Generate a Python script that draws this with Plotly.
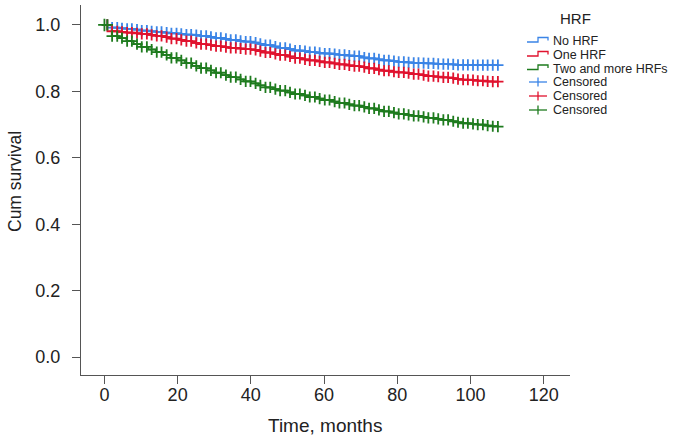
import numpy as np
import plotly.graph_objects as go

# Time points (months) and cumulative survival
time_pts = [0, 2, 4, 6, 8, 10, 12, 14, 16, 18, 20, 22, 24, 26, 28, 30, 32, 34, 36, 38, 40,
            42, 44, 46, 48, 50, 52, 54, 56, 58, 60, 62, 64, 66, 68, 70, 72, 74, 76, 78, 80,
            82, 84, 86, 88, 90, 92, 94, 96, 98, 100, 102, 104, 106, 107.5]
surv_no_hrf = [1.000, 0.992, 0.990, 0.988, 0.986, 0.983, 0.981, 0.979, 0.977, 0.975, 0.973,
               0.971, 0.969, 0.967, 0.964, 0.961, 0.958, 0.955, 0.952, 0.950, 0.947,
               0.943, 0.939, 0.935, 0.931, 0.927, 0.923, 0.921, 0.918, 0.916, 0.914,
               0.912, 0.910, 0.908, 0.906, 0.902, 0.899, 0.896, 0.893, 0.891, 0.889,
               0.887, 0.886, 0.885, 0.884, 0.883, 0.882, 0.881, 0.880, 0.880, 0.879,
               0.879, 0.879, 0.879, 0.879]
surv_one_hrf = [1.000, 0.981, 0.979, 0.977, 0.975, 0.973, 0.970, 0.967, 0.963, 0.959, 0.955,
                0.951, 0.946, 0.942, 0.939, 0.936, 0.933, 0.931, 0.929, 0.927, 0.925,
                0.921, 0.917, 0.913, 0.909, 0.905, 0.900, 0.896, 0.893, 0.890, 0.887,
                0.884, 0.881, 0.878, 0.876, 0.873, 0.869, 0.865, 0.862, 0.859, 0.857,
                0.855, 0.852, 0.849, 0.846, 0.844, 0.842, 0.840, 0.837, 0.835, 0.834,
                0.832, 0.830, 0.829, 0.829]
surv_two_hrf = [1.000, 0.966, 0.960, 0.951, 0.942, 0.934, 0.926, 0.918, 0.910, 0.901, 0.893,
                0.885, 0.877, 0.870, 0.863, 0.856, 0.849, 0.843, 0.836, 0.830, 0.824,
                0.818, 0.812, 0.807, 0.802, 0.797, 0.792, 0.788, 0.783, 0.778, 0.774,
                0.769, 0.765, 0.761, 0.757, 0.753, 0.749, 0.744, 0.740, 0.736, 0.732,
                0.729, 0.726, 0.723, 0.720, 0.717, 0.714, 0.710, 0.707, 0.704, 0.702,
                0.700, 0.697, 0.695, 0.694]

# Censoring times (months)
censor_times = [0.8, 2.1, 3.5, 4.8, 6.2, 7.5, 8.9, 10.2, 11.6, 12.9, 14.3, 15.6, 17.0, 18.3,
                19.7, 21.0, 22.4, 23.7, 25.1, 26.4, 27.8, 29.1, 30.5, 31.8, 33.2, 34.5, 35.9,
                37.2, 38.6, 39.9, 41.3, 42.6, 44.0, 45.3, 46.7, 48.0, 49.4, 50.7, 52.1, 53.4,
                54.8, 56.1, 57.5, 58.8, 60.2, 61.5, 62.9, 64.2, 65.6, 66.9, 68.3, 69.6, 71.0,
                72.3, 73.7, 75.0, 76.4, 77.7, 79.1, 80.4, 81.8, 83.1, 84.5, 85.8, 87.2, 88.5,
                89.9, 91.2, 92.6, 93.9, 95.3, 96.6, 98.0, 99.3, 100.7, 102.0, 103.4, 104.7,
                106.1, 107.5]

groups = ["No HRF", "One HRF", "Two and more HRFs"]
legend_labels = groups + ["Censored", "Censored", "Censored"]
colors = ["#3A84E6", "#E0122E", "#1E7B1E"]
series = [surv_no_hrf, surv_one_hrf, surv_two_hrf]

x_ticks = [0, 20, 40, 60, 80, 100, 120]
y_ticks = [0.0, 0.2, 0.4, 0.6, 0.8, 1.0]

fig = go.Figure()
for name, col, s in zip(groups, colors, series):
    fig.add_trace(go.Scatter(x=time_pts, y=s, mode="lines", line_shape="hv",
                             line=dict(color=col, width=1.7), name=name, showlegend=False))


def step_value(t, tp, s):
    idx = np.searchsorted(np.array(tp), t, side="right") - 1
    return np.array(s)[idx]


for col, s in zip(colors, series):
    ct = np.array(censor_times)
    fig.add_trace(go.Scatter(x=ct, y=step_value(ct, time_pts, s), mode="markers",
                             marker=dict(symbol="cross-thin", size=8,
                                         line=dict(color=col, width=1.8)),
                             name="Censored", showlegend=False))
# start mark at t=0
fig.add_trace(go.Scatter(x=[0], y=[1.0], mode="markers", showlegend=False,
                         marker=dict(symbol="cross-thin", size=9,
                                     line=dict(color=colors[2], width=1.8))))

font_family = "Liberation Sans, Arial, Helvetica, sans-serif"

# plot area in pixels
L, R, T, B = 81, 570, 5, 375
W, H = R - L, B - T


def px(x):
    return (x - L) / W


def py(y):
    return (B - y) / H


annotations = [
    dict(text="Cum survival", x=px(15), y=py(182), xref="paper", yref="paper",
         textangle=-90, showarrow=False, xanchor="center", yanchor="middle",
         font=dict(size=17.5, color="#222222")),
    dict(text="Time, months", x=px(325), y=py(425), xref="paper", yref="paper",
         showarrow=False, xanchor="center", yanchor="middle",
         font=dict(size=19, color="#222222")),
    dict(text="HRF", x=px(558), y=py(19), xref="paper", yref="paper",
         showarrow=False, xanchor="left", yanchor="middle",
         font=dict(size=15, color="#222222")),
]
shapes = []
row_y = [41, 55, 68.5, 82, 96, 110]
for i, (lab, yy) in enumerate(zip(legend_labels, row_y)):
    col = colors[i % 3]
    annotations.append(dict(text=lab, x=px(551), y=py(yy), xref="paper", yref="paper",
                            showarrow=False, xanchor="left", yanchor="middle",
                            font=dict(size=12.5, color="#222222")))
    if i < 3:
        path = (f"M {px(527)},{py(yy + 1)} L {px(538)},{py(yy + 1)} L {px(538)},{py(yy - 3.5)} "
                f"L {px(548)},{py(yy - 3.5)} L {px(548)},{py(yy - 0.5)}")
        shapes.append(dict(type="path", path=path, xref="paper", yref="paper",
                           line=dict(color=col, width=1.3)))
    else:
        shapes.append(dict(type="line", x0=px(529), x1=px(547), y0=py(yy), y1=py(yy),
                           xref="paper", yref="paper", line=dict(color=col, width=1.3)))
        shapes.append(dict(type="line", x0=px(538), x1=px(538), y0=py(yy - 4.5), y1=py(yy + 4.5),
                           xref="paper", yref="paper", line=dict(color=col, width=1.3)))

fig.update_layout(
    width=673, height=438,
    margin=dict(l=L, r=673 - R, t=T, b=438 - B, autoexpand=False),
    paper_bgcolor="white", plot_bgcolor="white",
    font=dict(family=font_family, color="#222222"),
    showlegend=False,
    annotations=annotations, shapes=shapes,
)
fig.update_xaxes(range=[-6.4, 127.2], tickvals=x_ticks, ticks="outside", ticklen=8,
                 tickcolor="#555555", showline=True, linecolor="#555555", linewidth=1,
                 showgrid=False, zeroline=False, tickfont=dict(size=18),
                 automargin=False, ticklabelstandoff=-5)
fig.update_yaxes(range=[-0.054, 1.06], tickvals=y_ticks, tickformat=".1f", ticks="outside",
                 ticklen=8, tickcolor="#555555", showline=True, linecolor="#555555", linewidth=1,
                 showgrid=False, zeroline=False, tickfont=dict(size=18),
                 automargin=False, ticklabelstandoff=8)

fig.write_html("out.html", config={"displayModeBar": False},
               post_script="document.body.style.margin='0';")
